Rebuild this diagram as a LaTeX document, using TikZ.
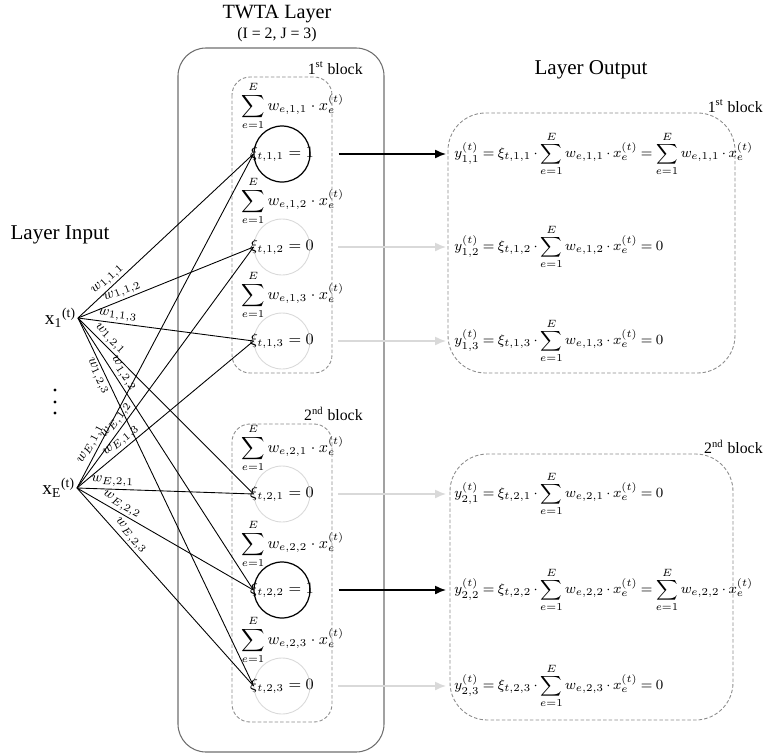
\documentclass[tikz,border=0pt]{standalone}
\usepackage{amsmath}
\usepackage[no-math]{fontspec}
\setmainfont{Liberation Serif}
\usetikzlibrary{positioning, arrows.meta}

\definecolor{offgray}{HTML}{D9D9D9}
\definecolor{framegray}{HTML}{6E6E6E}
\definecolor{dashgray}{HTML}{8C8C8C}

\newcommand\outmath{\fontsize{8.5}{10}\selectfont\medmuskip=3mu\relax\thickmuskip=4mu\relax}

\begin{document}
\begin{tikzpicture}[x=0.02cm, y=-0.02cm, font=\small,
  unit/.style={circle, draw=offgray, line width=0.5pt, minimum size=1.12cm, inner sep=0pt},
  fired/.style={unit, draw=black, line width=0.7pt},
  weight/.style={font=\footnotesize, sloped, inner sep=1.2pt},
  link/.style={line width=0.5pt},
  fire/.style={-{Latex[length=2.2mm, width=1.8mm]}, line width=0.8pt},
  layerbox/.style={draw=framegray, rounded corners=0.56cm, line width=0.6pt},
  blockbox/.style={draw=dashgray, dash pattern=on 2pt off 1.2pt, rounded corners=0.36cm, line width=0.5pt},
  outbox/.style={blockbox, rounded corners=0.75cm},
  blockname/.style={anchor=east, inner sep=0pt},
  sumlabel/.style={anchor=west, inner sep=0pt},
  outeq/.style={anchor=west, inner xsep=0.16cm, inner ysep=0pt, font=\outmath}]

% Manually size the picture
\useasboundingbox (0,0) rectangle (764,754);

% Titles
\node[font=\fontsize{11.5}{13}\selectfont] (twta) at (277,14) {TWTA Layer};
\node (dims) at (277,35) {(I = 2, J = 3)};
\node[font=\fontsize{12}{14}\selectfont] (inlabel) at (60,235) {Layer Input};
\node[font=\fontsize{12}{14}\selectfont] (outlabel) at (591,70) {Layer Output};

% Frames
\draw[layerbox] (178,48) rectangle (384,752);
\draw[blockbox] (232,77) rectangle (332,373);
\draw[blockbox] (232,424) rectangle (332,722);
\draw[outbox] (448,113) rectangle (735,373);
\draw[outbox] (450,454) rectangle (733,720);
\node[blockname] (tb1) at (363,68) {1\textsuperscript{st} block};
\node[blockname] (tb2) at (363,414) {2\textsuperscript{nd} block};
\node[blockname] (ob1) at (763,106) {1\textsuperscript{st} block};
\node[blockname] (ob2) at (763,447) {2\textsuperscript{nd} block};

% Weighted sums
\node[sumlabel] (s11) at (241,106) {$\displaystyle\sum_{e=1}^{E} w_{e,1,1}\cdot x^{(t)}_{e}$};
\node[sumlabel] (s12) at (241,201) {$\displaystyle\sum_{e=1}^{E} w_{e,1,2}\cdot x^{(t)}_{e}$};
\node[sumlabel] (s13) at (241,295) {$\displaystyle\sum_{e=1}^{E} w_{e,1,3}\cdot x^{(t)}_{e}$};
\node[sumlabel] (s21) at (241,448) {$\displaystyle\sum_{e=1}^{E} w_{e,2,1}\cdot x^{(t)}_{e}$};
\node[sumlabel] (s22) at (241,544) {$\displaystyle\sum_{e=1}^{E} w_{e,2,2}\cdot x^{(t)}_{e}$};
\node[sumlabel] (s23) at (241,640) {$\displaystyle\sum_{e=1}^{E} w_{e,2,3}\cdot x^{(t)}_{e}$};

% Threshold units
\node[fired, label=center:{$\xi_{t,1,1} = 1$}] (c11) at (282,154) {};
\node[unit, label=center:{$\xi_{t,1,2} = 0$}] (c12) at (282,247) {};
\node[unit, label=center:{$\xi_{t,1,3} = 0$}] (c13) at (282,341) {};
\node[unit, label=center:{$\xi_{t,2,1} = 0$}] (c21) at (282,494) {};
\node[fired, label=center:{$\xi_{t,2,2} = 1$}] (c22) at (282,590) {};
\node[unit, label=center:{$\xi_{t,2,3} = 0$}] (c23) at (282,686) {};

% Inputs
\node[font=\fontsize{11}{13}\selectfont, anchor=east, inner sep=1pt] (x1) at (78,318) {x\textsubscript{1}\textsuperscript{(t)}};
\node[font=\fontsize{11}{13}\selectfont, anchor=east, inner sep=1pt] (xE) at (77,488) {x\textsubscript{E}\textsuperscript{(t)}};
\fill (55,390) circle (0.9pt);
\fill (55,402) circle (0.9pt);
\fill (55,413) circle (0.9pt);

% Weights from x_1
\draw[link] (x1.east) -- node[weight, above, pos=0.2] {$w_{1,1,1}$} (c11.west);
\draw[link] (x1.east) -- node[weight, above, pos=0.27] {$w_{1,1,2}$} (c12.west);
\draw[link] (x1.east) -- node[weight, above, pos=0.22] {$w_{1,1,3}$} (c13.west);
\draw[link] (x1.east) -- node[weight, above, pos=0.15] {$w_{1,2,1}$} (c21.west);
\draw[link] (x1.east) -- node[weight, above, pos=0.22] {$w_{1,2,2}$} (c22.west);
\draw[link] (x1.east) -- node[weight, below, pos=0.15] {$w_{1,2,3}$} (c23.west);

% Weights from x_E
\draw[link] (xE.east) -- node[weight, above, pos=0.12] {$w_{E,1,1}$} (c11.west);
\draw[link] (xE.east) -- node[weight, above, pos=0.26] {$w_{E,1,2}$} (c12.west);
\draw[link] (xE.east) -- node[weight, above, pos=0.28] {$w_{E,1,3}$} (c13.west);
\draw[link] (xE.east) -- node[weight, above, pos=0.2] {$w_{E,2,1}$} (c21.west);
\draw[link] (xE.east) -- node[weight, above, pos=0.23] {$w_{E,2,2}$} (c22.west);
\draw[link] (xE.east) -- node[weight, above, pos=0.27] {$w_{E,2,3}$} (c23.west);

% Layer output
\node[outeq] (o11) at (446,154) {$\displaystyle y^{(t)}_{1,1} = \xi_{t,1,1}\cdot\sum_{e=1}^{E} w_{e,1,1}\cdot x^{(t)}_{e} = \sum_{e=1}^{E} w_{e,1,1}\cdot x^{(t)}_{e}$};
\node[outeq] (o12) at (446,247) {$\displaystyle y^{(t)}_{1,2} = \xi_{t,1,2}\cdot\sum_{e=1}^{E} w_{e,1,2}\cdot x^{(t)}_{e} = 0$};
\node[outeq] (o13) at (446,341) {$\displaystyle y^{(t)}_{1,3} = \xi_{t,1,3}\cdot\sum_{e=1}^{E} w_{e,1,3}\cdot x^{(t)}_{e} = 0$};
\node[outeq] (o21) at (446,494) {$\displaystyle y^{(t)}_{2,1} = \xi_{t,2,1}\cdot\sum_{e=1}^{E} w_{e,2,1}\cdot x^{(t)}_{e} = 0$};
\node[outeq] (o22) at (446,590) {$\displaystyle y^{(t)}_{2,2} = \xi_{t,2,2}\cdot\sum_{e=1}^{E} w_{e,2,2}\cdot x^{(t)}_{e} = \sum_{e=1}^{E} w_{e,2,2}\cdot x^{(t)}_{e}$};
\node[outeq] (o23) at (446,686) {$\displaystyle y^{(t)}_{2,3} = \xi_{t,2,3}\cdot\sum_{e=1}^{E} w_{e,2,3}\cdot x^{(t)}_{e} = 0$};

\draw[fire, shorten <=0.56cm] (c11.east) -- (o11.west);
\draw[fire, offgray, shorten <=0.56cm] (c12.east) -- (o12.west);
\draw[fire, offgray, shorten <=0.56cm] (c13.east) -- (o13.west);
\draw[fire, offgray, shorten <=0.56cm] (c21.east) -- (o21.west);
\draw[fire, shorten <=0.56cm] (c22.east) -- (o22.west);
\draw[fire, offgray, shorten <=0.56cm] (c23.east) -- (o23.west);

\end{tikzpicture}
\end{document}
